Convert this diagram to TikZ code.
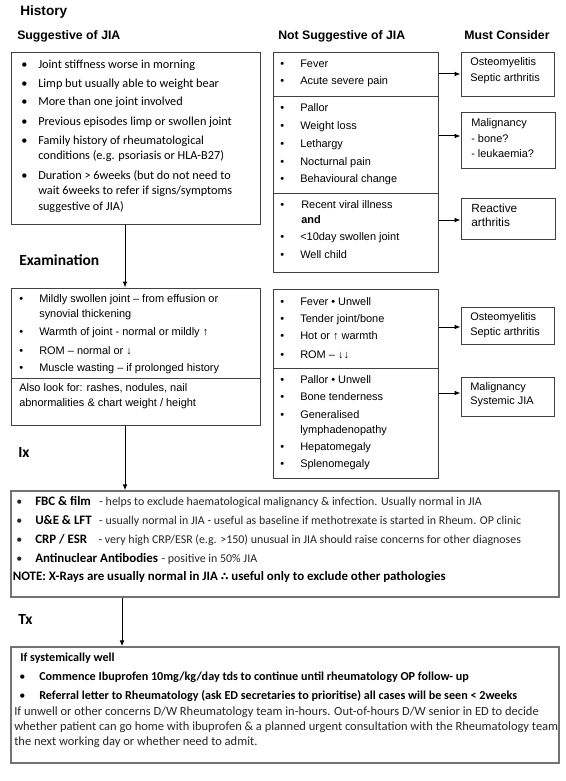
\documentclass[tikz,border=0pt]{standalone}
\usepackage{fontspec}
\usetikzlibrary{arrows.meta,fit}
\newfontfamily\arialf{Liberation Sans}
\newfontfamily\calf{Carlito}
\newfontfamily\dejaf{DejaVu Sans}
\newsavebox\calbox
\newlength\natw
\newcommand\calib[4]{\sbox\calbox{#2\fontsize{10}{12}\selectfont #4}\setlength\natw{\wd\calbox}\pgfmathsetmacro#1{10*#3*0.75/\natw}\global\let#1#1}
\newcommand\bit[6]{\node[#1] (#2b) at (#3,#5) {\mdseries\textbullet}; \node[#1] (#2) at (#4,#5) {#6};}
\newcommand\ixlab[1]{{\fontsize{\szN}{\szN}\selectfont\bfseries\color{black}#1}}
\newcommand\therefore{{\dejaf\fontsize{\szD}{\szD}\selectfont ∴}}
\AtBeginDocument{%
\calib\szC{\calf}{194}{wait 6weeks to refer if signs/symptoms}%
\calib\szA{\arialf}{179}{Mildly swollen joint – from effusion or}%
\calib\szR{\arialf}{46}{Reactive}%
\calib\szN{\calf\bfseries}{433}{NOTE: X-Rays are usually normal in JIA {\dejaf\fontsize{8.5}{8.5}\selectfont ∴} useful only to exclude other pathologies}%
\pgfmathsetmacro\szD{0.85*\szN}\global\let\szD\szD
\pgfmathsetmacro\szI{0.925*\szN}\global\let\szI\szI
\calib\szT{\calf}{544}{whether patient can go home with ibuprofen \& a planned urgent consultation with the Rheumatology team}%
\calib\szTB{\calf\bfseries}{478}{Referral letter to Rheumatology (ask ED secretaries to prioritise) all cases will be seen < 2weeks}%
\calib\szH{\arialf\bfseries}{47}{History}%
\calib\szS{\arialf\bfseries}{127}{Not Suggestive of JIA}%
\calib\szE{\calf\bfseries}{80}{Examination}%
}
\begin{document}
\begin{tikzpicture}[x=0.75pt,y=-0.75pt,
  box/.style={draw=black!75, line width=0.75pt, inner sep=0pt, fit={#1}},
  bigbox/.style={draw=black!55, line width=1pt, inner sep=0pt, fit={#1}},
  arr/.style={draw=black, line width=0.75pt, -{Latex[length=4.5pt,width=3.6pt]}},
  txA/.style={anchor=mid west, inner sep=0pt, font=\arialf\fontsize{\szA}{\szA}\selectfont},
  txR/.style={anchor=mid west, inner sep=0pt, font=\arialf\fontsize{\szR}{\szR}\selectfont},
  txC/.style={anchor=mid west, inner sep=0pt, font=\calf\fontsize{\szC}{\szC}\selectfont},
  txI/.style={anchor=mid west, inner sep=0pt, text=black!85, font=\calf\fontsize{\szI}{\szI}\selectfont},
  txN/.style={anchor=mid west, inner sep=0pt, font=\calf\bfseries\fontsize{\szN}{\szN}\selectfont},
  txT/.style={anchor=mid west, inner sep=0pt, text=black!85, font=\calf\fontsize{\szT}{\szT}\selectfont},
  txTB/.style={anchor=mid west, inner sep=0pt, font=\calf\bfseries\fontsize{\szTB}{\szTB}\selectfont},
  hdH/.style={anchor=mid west, inner sep=0pt, font=\arialf\bfseries\fontsize{\szH}{\szH}\selectfont},
  hdS/.style={anchor=mid west, inner sep=0pt, font=\arialf\bfseries\fontsize{\szS}{\szS}\selectfont},
  hdE/.style={anchor=mid west, inner sep=0pt, font=\calf\bfseries\fontsize{\szE}{\szE}\selectfont}]
\useasboundingbox[fill=white] (0,0) rectangle (566,781);

% headings
\node[hdH] (hHist) at (20,13) {History};
\node[hdS] (hSug) at (17,37) {Suggestive of JIA};
\node[hdS] (hNot) at (278,37) {Not Suggestive of JIA};
\node[hdS] (hMust) at (464,37) {Must Consider};
\node[hdE] (hExam) at (19,263) {Examination};
\node[hdE] (hIx) at (18,455) {Ix};
\node[hdE] (hTx) at (18,622) {Tx};

% boxes
\node[box={(11,53) (260,224)}] (b1) {};
\node[box={(273,53) (438,97)}] (nsA) {};
\node[box={(273,97) (438,193)}] (nsB) {};
\node[box={(273,193) (438,272)}] (nsC) {};
\node[box={(461,53) (554,97)}] (mc1) {};
\node[box={(461,113) (555,169)}] (mc2) {};
\node[box={(461,198) (555,239)}] (mc3) {};
\node[box={(11,288) (260,378)}] (exA) {};
\node[box={(11,378) (260,425)}] (exB) {};
\node[box={(273,289) (438,368)}] (erA) {};
\node[box={(273,368) (438,478)}] (erB) {};
\node[box={(461,307) (554,344)}] (mc4) {};
\node[box={(461,377) (554,416)}] (mc5) {};
\node[bigbox={(11,491) (559,597)}] (ix) {};
\node[bigbox={(11,647) (559,763)}] (tx) {};

% box 1 text
\bit{txC}{s1}{21}{38}{66}{Joint stiffness worse in morning}
\bit{txC}{s2}{21}{38}{85}{Limp but usually able to weight bear}
\bit{txC}{s3}{21}{38}{103}{More than one joint involved}
\bit{txC}{s4}{21}{38}{123}{Previous episodes limp or swollen joint}
\bit{txC}{s5}{21}{38}{142}{Family history of rheumatological}
\node[txC] (s5c) at (38,157) {conditions (e.g. psoriasis or HLA-B27)};
\bit{txC}{s6}{21}{38}{177}{Duration > 6weeks (but do not need to}
\node[txC] (s6c) at (38,192) {wait 6weeks to refer if signs/symptoms};
\node[txC] (s6d) at (38,208) {suggestive of JIA)};

% not suggestive
\bit{txA}{n1}{280}{300}{65}{Fever}
\bit{txA}{n2}{280}{300}{82}{Acute severe pain}
\bit{txA}{n3}{280}{300}{109}{Pallor}
\bit{txA}{n4}{280}{300}{127}{Weight loss}
\bit{txA}{n5}{280}{300}{145}{Lethargy}
\bit{txA}{n6}{280}{300}{163}{Nocturnal pain}
\bit{txA}{n7}{280}{300}{180}{Behavioural change}
\bit{txA}{n8}{280}{301}{206}{Recent viral illness}
\node[txA,font=\arialf\bfseries\fontsize{\szA}{\szA}\selectfont] (n8c) at (301,221) {and};
\bit{txA}{n9}{280}{300}{238}{<10day swollen joint}
\bit{txA}{n10}{280}{300}{256}{Well child}

% must consider
\node[txA] (m1a) at (470,63) {Osteomyelitis};
\node[txA] (m1b) at (470,79) {Septic arthritis};
\node[txA] (m2a) at (471,124) {Malignancy};
\node[txA] (m2b) at (471,140) {- bone?};
\node[txA] (m2c) at (471,155) {- leukaemia?};
\node[txR] (m3a) at (471,210) {Reactive};
\node[txR] (m3b) at (471,224) {arthritis};

% examination
\bit{txA}{e1}{19}{39}{300}{Mildly swollen joint – from effusion or}
\node[txA] (e1c) at (39,315) {synovial thickening};
\bit{txA}{e2}{19}{39}{333}{Warmth of joint - normal or mildly ↑}
\bit{txA}{e3}{19}{39}{352}{ROM – normal or ↓}
\bit{txA}{e4}{19}{39}{369}{Muscle wasting – if prolonged history}
\node[txA] (e5) at (19,389) {Also look for: rashes, nodules, nail};
\node[txA] (e5c) at (19,404) {abnormalities \& chart weight / height};

% examination right
\bit{txA}{r1}{280}{300}{303}{Fever • Unwell}
\bit{txA}{r2}{280}{300}{320}{Tender joint/bone}
\bit{txA}{r3}{280}{300}{337}{Hot or ↑ warmth}
\bit{txA}{r4}{280}{300}{356}{ROM – ↓↓}
\bit{txA}{r5}{280}{300}{381}{Pallor • Unwell}
\bit{txA}{r6}{280}{300}{398}{Bone tenderness}
\bit{txA}{r7}{280}{300}{416}{Generalised}
\node[txA] (r7c) at (300,431) {lymphadenopathy};
\bit{txA}{r8}{280}{300}{448}{Hepatomegaly}
\bit{txA}{r9}{280}{300}{465}{Splenomegaly}
\node[txA] (m4a) at (470,318) {Osteomyelitis};
\node[txA] (m4b) at (470,333) {Septic arthritis};
\node[txA] (m5a) at (470,388) {Malignancy};
\node[txA] (m5b) at (470,402) {Systemic JIA};

% Ix
\bit{txI}{i1}{16}{35}{503}{\ixlab{FBC \& film}\hspace{6.3pt}- helps to exclude haematological malignancy \& infection. Usually normal in JIA}
\bit{txI}{i2}{16}{35}{522}{\ixlab{U\&E \& LFT}\hspace{5.6pt}- usually normal in JIA - useful as baseline if methotrexate is started in Rheum. OP clinic}
\bit{txI}{i3}{16}{35}{541}{\ixlab{CRP / ESR}\hspace{8.6pt}- very high CRP/ESR (e.g. >150) unusual in JIA should raise concerns for other diagnoses}
\bit{txI}{i4}{16}{35}{560}{\ixlab{Antinuclear Antibodies}\hspace{2.7pt}- positive in 50\% JIA}
\node[txN] (i5) at (12.5,578) {NOTE: X-Rays are usually normal in JIA \therefore{} useful only to exclude other pathologies};

% Tx
\node[txTB] (t0) at (20,659) {If systemically well};
\bit{txTB}{t1}{19}{39}{678}{Commence Ibuprofen 10mg/kg/day tds to continue until rheumatology OP follow- up}
\bit{txTB}{t2}{19}{39}{697}{Referral letter to Rheumatology (ask ED secretaries to prioritise) all cases will be seen < 2weeks}
\node[txT] (t3) at (14,713) {If unwell or other concerns D/W Rheumatology team in-hours. Out-of-hours D/W senior in ED to decide};
\node[txT] (t4) at (14,728) {whether patient can go home with ibuprofen \& a planned urgent consultation with the Rheumatology team};
\node[txT] (t5) at (14,743) {the next working day or whether need to admit.};

% connectors
\coordinate (sp1) at (125,0);
\coordinate (sp2) at (122,0);
\draw[arr] (b1.south -| sp1) -- (exA.north -| sp1);
\draw[arr] (exB.south -| sp1) -- (ix.north -| sp1);
\draw[arr] (ix.south -| sp2) -- (tx.north -| sp2);
\coordinate (h1) at (0,74);
\coordinate (h2) at (0,136);
\coordinate (h3) at (0,220);
\coordinate (h4) at (0,327);
\coordinate (h5) at (0,393);
\draw[arr] (nsA.east |- h1) -- (mc1.west |- h1);
\draw[arr] (nsB.east |- h2) -- (mc2.west |- h2);
\draw[arr] (nsC.east |- h3) -- (mc3.west |- h3);
\draw[arr] (erA.east |- h4) -- (mc4.west |- h4);
\draw[arr] (erB.east |- h5) -- (mc5.west |- h5);
\end{tikzpicture}
\end{document}
